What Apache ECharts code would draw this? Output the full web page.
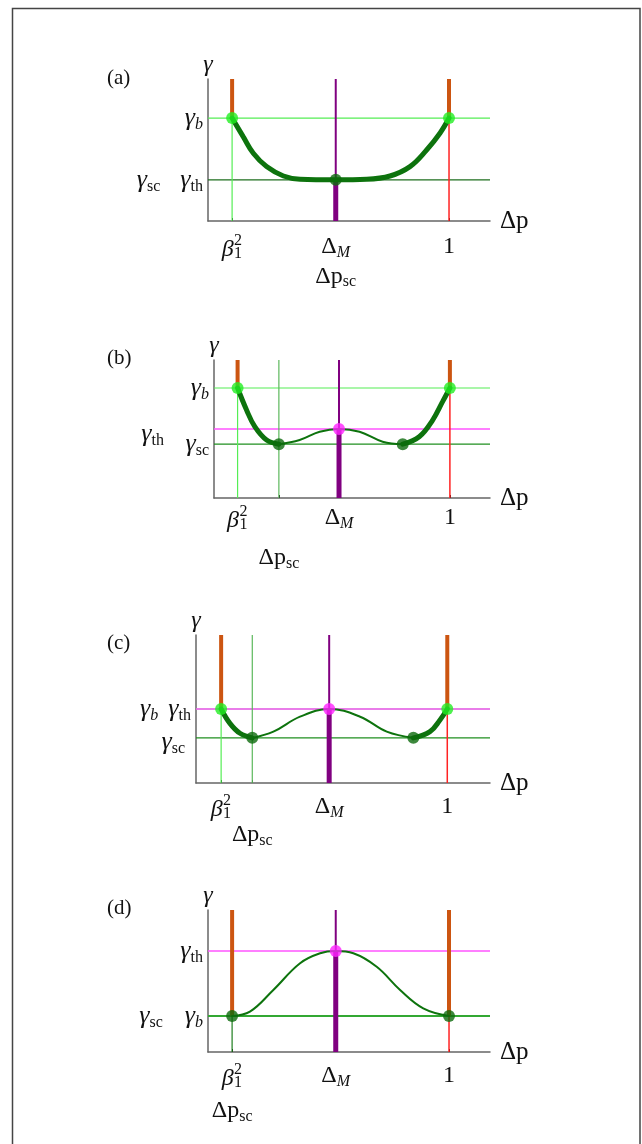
<!DOCTYPE html>
<html><head><meta charset="utf-8">
<script src="https://cdn.jsdelivr.net/npm/echarts@6/dist/echarts.min.js"></script>
<style>html,body{margin:0;padding:0;background:#fff}#c{width:642px;height:1144px}</style>
</head><body><div id="c"></div>
<script>
// ---- data ----
const panelLabels = ['(a)', '(b)', '(c)', '(d)'];
const xMax = 1.17, yMax = 10;
const betaSq = [0.1, 0.1, 0.1, 0.1];
const deltaM = [0.53, 0.53, 0.53, 0.53];
const xOne = [1, 1, 1, 1];
const dpSc = [0.53, 0.275, 0.224, 0.1];
const rightMin = [null, 0.80, 0.865, null];
const gammaB = [7.25, 7.97, 5.0, 2.54];
const gammaTh = [2.9, 5.0, 5.0, 7.11];
const gammaSc = [2.9, 3.9, 3.05, 2.54];

const curveA = [[0.1,7.25],[0.146,5.94],[0.188,4.77],[0.243,3.83],[0.313,3.17],[0.382,2.94],[0.53,2.9],[0.658,2.94],[0.755,3.17],[0.838,3.83],[0.907,5.0],[0.963,6.2],[1,7.25]];
const curveBLeft = [[0.1,7.97],[0.138,6.38],[0.173,5.17],[0.223,4.2],[0.275,3.9]];
const curveBMid = [[0.275,3.9],[0.363,4.2],[0.448,4.8],[0.53,5.0],[0.617,4.8],[0.715,4.08],[0.80,3.9]];
const curveBRight = [[0.80,3.9],[0.87,4.44],[0.927,5.65],[0.969,6.98],[1,7.97]];
const curveCLeft = [[0.1,5.0],[0.135,4.03],[0.175,3.36],[0.224,3.05]];
const curveCMid = [[0.224,3.05],[0.308,3.47],[0.414,4.48],[0.53,5.0],[0.653,4.48],[0.759,3.47],[0.865,3.05]];
const curveCRight = [[0.865,3.05],[0.931,3.47],[0.971,4.26],[1,5.0]];
const curveD = [[0.1,2.54],[0.174,2.84],[0.271,4.37],[0.382,6.25],[0.465,6.95],[0.53,7.11],[0.603,6.95],[0.7,6.0],[0.797,4.37],[0.893,3.08],[1,2.54]];

// ---- styling / layout ----
const FONT = 'Liberation Serif';
const FS = 24, FSUB = 16, FG = 26, YLH = 24;
const grids = [
  {left: 208, top: 79, width: 282, height: 142},
  {left: 214, top: 360, width: 276, height: 138},
  {left: 196, top: 635, width: 294, height: 148},
  {left: 208, top: 910, width: 282, height: 142}
];
const titleTops = [68, 348, 633, 898];
const xLabelMargin = [12, 6, 10, 10];
const secondLineLH = [31, 52, 28, 30];
const yJoinGap = [20, 12, 10, 22];
// per-label nudges for y-axis labels: dy = px down, dx = px extra right gap
const yLabelNudge = [{}, {th: {dy: 5, dx: 45}}, {sc: {dy: 4, dx: 6}}, {}];

const C = {
  orange: '#cc5511', lightGreen: '#55ee55', dotLight: '#22ee22', dark: '#0d730d',
  dotDark: '#0c6a0c', purple: '#800080', red: '#ff2222', magenta: '#ff55ff',
  dotMag: '#ff22ff', scLine: '#1f8f1f', psc: '#5cb85c', axis: '#666666', text: '#111111'
};

const near = (a, b) => a != null && b != null && Math.abs(a - b) < 1e-6;
const uniq = arr => arr.filter((v, k) => v != null && arr.findIndex(w => near(w, v)) === k);

function richFor(i) {
  const r = {
    g: {fontFamily: FONT, fontSize: FG, fontStyle: 'italic', color: C.text, lineHeight: YLH},
    gx: {fontFamily: FONT, fontSize: FS, fontStyle: 'italic', color: C.text, lineHeight: 28},
    t: {fontFamily: FONT, fontSize: FS, color: C.text, lineHeight: 28},
    s: {fontFamily: FONT, fontSize: FSUB, color: C.text, lineHeight: YLH - 14, padding: [14, 0, 0, 0]},
    si: {fontFamily: FONT, fontSize: FSUB, fontStyle: 'italic', color: C.text, lineHeight: YLH - 14, padding: [14, 0, 0, 0]},
    jn: {fontFamily: FONT, fontSize: FSUB, lineHeight: 10, width: yJoinGap[i]},
    xs: {fontFamily: FONT, fontSize: FSUB, color: C.text, padding: [11, 0, 0, 0]},
    xsi: {fontFamily: FONT, fontSize: FSUB, fontStyle: 'italic', color: C.text, padding: [11, 0, 0, 0]},
    up0: {fontFamily: FONT, fontSize: FSUB, color: C.text, padding: [0, 0, 18, 0], width: 0},
    dn0: {fontFamily: FONT, fontSize: FSUB, color: C.text, padding: [8, 0, 0, 0], width: 0},
    sq: {fontFamily: FONT, fontSize: FSUB, width: 4.5},
    e: {fontFamily: FONT, fontSize: FS, lineHeight: 28},
    z: {fontFamily: FONT, fontSize: 4, lineHeight: 4},
    t2: {fontFamily: FONT, fontSize: FS, color: C.text, lineHeight: secondLineLH[i]},
    s2: {fontFamily: FONT, fontSize: FSUB, color: C.text, padding: [11, 0, 0, 0]}
  };
  Object.keys(yLabelNudge[i]).forEach(k => {
    const n = yLabelNudge[i][k];
    r['g_' + k] = Object.assign({}, r.g, {padding: [2 * n.dy, 0, 0, 0]});
    r['s_' + k] = Object.assign({}, r.s, {padding: [14 + 2 * n.dy, 0, 0, 0]});
    r['si_' + k] = Object.assign({}, r.si, {padding: [14 + 2 * n.dy, 0, 0, 0]});
    r['sp_' + k] = {fontFamily: FONT, fontSize: FSUB, lineHeight: 10, width: n.dx};
  });
  return r;
}

function xLabel(i) {
  return function (v) {
    let first = '', second = '';
    if (near(v, betaSq[i])) first = '{gx|β}{sq| }{up0|2}{dn0|1}{sq| }';
    else if (near(v, deltaM[i])) first = '{t|Δ}{xsi|M}';
    else if (near(v, xOne[i])) first = '{t|1}';
    if (near(v, dpSc[i])) second = '{t2|Δp}{s2|sc}';
    if (!first) first = '{e| }';
    return second ? first + '\n' + second : first;
  };
}

function yLabel(i) {
  return function (v) {
    const parts = [];
    let tail = '';
    [['sc', gammaSc[i], false], ['b', gammaB[i], true], ['th', gammaTh[i], false]].forEach(([n, val, it]) => {
      if (near(v, val)) {
        const nd = yLabelNudge[i][n];
        const sfx = nd ? '_' + n : '';
        parts.push('{g' + sfx + '|γ}{' + (it ? 'si' : 's') + sfx + '|' + n + '}');
        if (nd) tail = '{sp_' + n + '| }';
      }
    });
    if (!parts.length) return '{z| }';   // invisible placeholder at the axis ends
    return parts.join('{jn| }') + tail;
  };
}

const option = {
  animation: false,
  backgroundColor: '#ffffff',
  graphic: [{
    type: 'rect', silent: true, z: 100,
    shape: {x: 12.5, y: 8.5, width: 627.5, height: 1160},
    style: {fill: 'none', stroke: '#444444', lineWidth: 1.5}
  }],
  title: panelLabels.map((t, i) => ({
    text: t, left: 107, top: titleTops[i], padding: 0,
    textStyle: {fontFamily: FONT, fontSize: 21, fontWeight: 'normal', color: C.text}
  })),
  grid: grids,
  xAxis: grids.map((g, i) => ({
    type: 'value', gridIndex: i, min: 0, max: xMax,
    name: 'Δp', nameLocation: 'end', nameGap: 10,
    nameTextStyle: {fontFamily: FONT, fontSize: 25, color: C.text, padding: [20, 0, 0, 0]},
    axisLine: {show: true, onZero: false, lineStyle: {color: C.axis, width: 1.5}},
    axisTick: {show: true, inside: true, length: 3, customValues: uniq([betaSq[i], dpSc[i], deltaM[i], xOne[i]]), lineStyle: {color: C.text, width: 1}},
    axisLabel: {
      customValues: uniq([betaSq[i], dpSc[i], deltaM[i], xOne[i]]),
      formatter: xLabel(i), margin: xLabelMargin[i], rich: richFor(i),
      hideOverlap: false, showMinLabel: true, showMaxLabel: true
    },
    splitLine: {show: false}
  })),
  yAxis: grids.map((g, i) => ({
    type: 'value', gridIndex: i, min: 0, max: yMax,
    name: 'γ', nameLocation: 'end', nameGap: 2,
    nameTextStyle: {fontFamily: FONT, fontSize: 24, fontStyle: 'italic', color: C.text},
    axisLine: {show: true, onZero: false, lineStyle: {color: C.axis, width: 1.5}},
    axisTick: {show: false},
    axisLabel: {
      customValues: [0].concat(uniq([gammaSc[i], gammaB[i], gammaTh[i]]), [yMax]),
      formatter: yLabel(i), margin: 5, rich: richFor(i),
      hideOverlap: false, showMinLabel: true, showMaxLabel: true
    },
    splitLine: {show: false}
  })),
  series: []
};

function lineS(gi, data, color, width, z) {
  return {type: 'line', xAxisIndex: gi, yAxisIndex: gi, data: data, symbol: 'none',
    lineStyle: {color: color, width: width, cap: 'butt'}, z: z, silent: true};
}
function curveS(gi, data, width) {
  return {type: 'line', xAxisIndex: gi, yAxisIndex: gi, data: data, symbol: 'none', smooth: 0.4,
    lineStyle: {color: C.dark, width: width, cap: 'round'}, z: 6, silent: true};
}
function dotS(gi, data, color) {
  return {type: 'scatter', xAxisIndex: gi, yAxisIndex: gi, data: data, symbolSize: 12,
    itemStyle: {color: color}, z: 10, silent: true};
}

const S = option.series;
for (let i = 0; i < 4; i++) {
  const b = betaSq[i], m = deltaM[i], o = xOne[i], gb = gammaB[i], gt = gammaTh[i], gs = gammaSc[i];
  if (i === 3) {
    S.push(lineS(i, [[0, gb], [xMax, gb]], '#33a833', 2, 2));
  } else {
    S.push(lineS(i, [[0, gb], [xMax, gb]], C.lightGreen, 1.2, 2));
  }
  if (i === 0) {
    S.push(lineS(i, [[0, gt], [xMax, gt]], '#1e6e1e', 1.2, 2));
  } else {
    if (i !== 3) S.push(lineS(i, [[0, gs], [xMax, gs]], C.scLine, 1.2, 2));
    S.push(lineS(i, [[0, gt], [xMax, gt]], C.magenta, 1.5, 3));
  }
  S.push(lineS(i, [[b, gb], [b, yMax]], C.orange, 4, 4));
  S.push(lineS(i, [[o, gb], [o, yMax]], C.orange, 4, 4));
  S.push(lineS(i, [[b, 0], [b, gb]], i === 3 ? '#1f7f1f' : C.lightGreen, 1.2, 4));
  S.push(lineS(i, [[o, 0], [o, gb]], C.red, 1.5, 4));
  S.push(lineS(i, [[m, gt], [m, yMax]], C.purple, 2, 4));
  S.push(lineS(i, [[m, 0], [m, gt]], C.purple, 5, 4));
  if (i === 1 || i === 2) S.push(lineS(i, [[dpSc[i], 0], [dpSc[i], yMax]], C.psc, 1.2, 3));
}
S.push(curveS(0, curveA, 5));
S.push(curveS(1, curveBLeft, 5), curveS(1, curveBMid, 2), curveS(1, curveBRight, 5));
S.push(curveS(2, curveCLeft, 5), curveS(2, curveCMid, 2), curveS(2, curveCRight, 5));
S.push(curveS(3, curveD, 2));
S.push(dotS(0, [[betaSq[0], gammaB[0]], [xOne[0], gammaB[0]]], C.dotLight));
S.push(dotS(0, [[deltaM[0], gammaTh[0]]], C.dotDark));
S.push(dotS(1, [[betaSq[1], gammaB[1]], [xOne[1], gammaB[1]]], C.dotLight));
S.push(dotS(1, [[dpSc[1], gammaSc[1]], [rightMin[1], gammaSc[1]]], C.dotDark));
S.push(dotS(1, [[deltaM[1], gammaTh[1]]], C.dotMag));
S.push(dotS(2, [[betaSq[2], gammaB[2]], [xOne[2], gammaB[2]]], C.dotLight));
S.push(dotS(2, [[dpSc[2], gammaSc[2]], [rightMin[2], gammaSc[2]]], C.dotDark));
S.push(dotS(2, [[deltaM[2], gammaTh[2]]], C.dotMag));
S.push(dotS(3, [[betaSq[3], gammaB[3]], [xOne[3], gammaB[3]]], C.dotDark));
S.push(dotS(3, [[deltaM[3], gammaTh[3]]], C.dotMag));

const chart = echarts.init(document.getElementById('c'), null, {renderer: 'canvas'});
chart.setOption(option);
</script>
</body></html>
